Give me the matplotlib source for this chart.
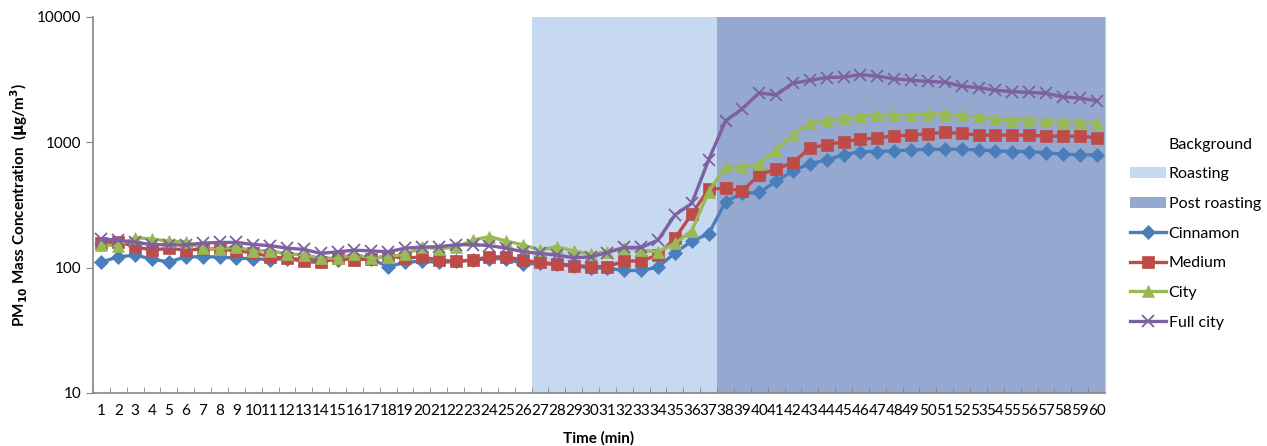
import matplotlib
matplotlib.use("Agg")
import matplotlib.pyplot as plt
from matplotlib.patches import Patch
from matplotlib.lines import Line2D

plt.rcParams['font.family'] = ['Lato', 'DejaVu Sans']

# ---------------- datos ----------------
minutes = list(range(1, 61))

# fase de fondo de cada minuto
phase = ['background'] * 26 + ['roasting'] * 11 + ['post'] * 23

cinnamon = [111, 122, 126, 117, 111, 122, 122, 122, 119, 118,
            116, 118, 117, 115, 116, 118, 117, 102, 110, 113,
            110, 112, 115, 118, 118, 107, 108, 106, 103, 100,
            99, 95, 95, 101, 131, 163, 186, 336, 392, 398,
            488, 593, 675, 725, 795, 845, 845, 855, 870, 880,
            880, 880, 870, 855, 845, 845, 825, 805, 795, 795]

medium = [156, 161, 147, 138, 143, 138, 141, 141, 136, 132,
          122, 119, 112, 110, 119, 115, 118, 124, 119, 122,
          115, 112, 115, 122, 122, 115, 110, 107, 104, 102,
          102, 113, 113, 126, 171, 268, 422, 430, 410, 550,
          610, 690, 900, 960, 1010, 1060, 1080, 1130, 1140, 1170,
          1200, 1180, 1140, 1140, 1140, 1140, 1120, 1120, 1120, 1090]

city = [152, 150, 174, 169, 163, 161, 143, 142, 146, 136,
        137, 128, 127, 119, 119, 128, 119, 122, 128, 145,
        142, 145, 166, 177, 163, 152, 138, 147, 136, 128,
        134, 144, 138, 134, 156, 197, 404, 639, 630, 670,
        870, 1140, 1430, 1510, 1560, 1615, 1640, 1660, 1660, 1690,
        1690, 1640, 1590, 1540, 1510, 1510, 1480, 1450, 1450, 1430]

full_city = [169, 166, 159, 153, 152, 152, 157, 159, 159, 153,
             150, 143, 140, 130, 134, 138, 136, 134, 143, 146,
             147, 152, 153, 150, 143, 134, 130, 126, 120, 122,
             132, 145, 145, 166, 263, 326, 725, 1480, 1860, 2480,
             2390, 2970, 3120, 3290, 3320, 3470, 3370, 3210, 3130, 3060,
             3020, 2800, 2730, 2600, 2540, 2500, 2460, 2310, 2250, 2150]

# ---------------- estilos ----------------
bg_colors = {'background': '#FFFFFF', 'roasting': '#C6D9F1', 'post': '#95A9D0'}
series = [
    ("Cinnamon", cinnamon, '#4A7EBB', 'D', 7),
    ("Medium", medium, '#BE4B48', 's', 8.5),
    ("City", city, '#98B954', '^', 9),
    ("Full city", full_city, '#7D60A0', 'x', 9),
]

fig = plt.figure(figsize=(12.67, 4.46), dpi=100)
ax = fig.add_axes([93 / 1267, 1 - 393 / 446, (1105 - 93) / 1267, (393 - 17) / 446])

# fondo: barras de ancho completo (como en Excel)
ax.bar(minutes, [10000 - 10] * len(minutes), bottom=10, width=1.0,
       color=[bg_colors[p] for p in phase], linewidth=0, zorder=0)

for nombre, vals, col, mk, ms in series:
    ax.plot(minutes, vals, color=col, lw=2.4, marker=mk, markersize=ms,
            markeredgecolor=col, markeredgewidth=1.3 if mk == 'x' else 0.5,
            zorder=3)

ax.set_yscale('log')
ax.set_ylim(10, 10000)
ax.set_xlim(0.5, 60.5)
ax.set_yticks([10, 100, 1000, 10000])
ax.set_yticklabels(['10', '100', '1000', '10000'])
ax.minorticks_off()
ax.set_xticks(minutes)
ax.set_xticklabels([str(m) for m in minutes])
ax.tick_params(axis='x', length=0, labelsize=11, pad=8, labelcolor='#000000')
ax.set_xticks([m + 0.5 for m in range(0, 61)], minor=True)
ax.tick_params(axis='x', which='minor', direction='in', length=4, color='#868686')
ax.tick_params(axis='y', direction='out', length=5, color='#868686',
               labelsize=11, labelcolor='#000000')

ax.spines['top'].set_visible(False)
for s in ['left', 'bottom']:
    ax.spines[s].set_color('#868686')
    ax.spines[s].set_linewidth(1.2)
ax.spines['right'].set_color('#C8C8C8')
ax.spines['right'].set_linewidth(0.8)

ax.set_xlabel('Time (min)', fontsize=11, fontweight='bold', labelpad=9)
ax.set_ylabel(r'PM$_{\mathbf{10}}$ Mass Concentration  ($\mathbf{\mu}$g/m$^{\mathbf{3}}$)',
              fontsize=11, fontweight='bold', labelpad=5)

handles = [Patch(facecolor=bg_colors['background'], edgecolor='none'),
           Patch(facecolor=bg_colors['roasting'], edgecolor='none'),
           Patch(facecolor=bg_colors['post'], edgecolor='none')]
labels = ['Background', 'Roasting', 'Post roasting']
for nombre, vals, col, mk, ms in series:
    handles.append(Line2D([], [], color=col, lw=2.4, marker=mk, markersize=ms,
                          markeredgecolor=col, markeredgewidth=1.3 if mk == 'x' else 0.5))
    labels.append(nombre)

fig.legend(handles, labels, loc='upper left', bbox_to_anchor=(1124 / 1267, 1 - 131 / 446),
           frameon=False, fontsize=11.5, labelspacing=0.97, handlelength=2.2,
           handletextpad=0.2, borderaxespad=0)

fig.savefig('out.png', dpi=100)
